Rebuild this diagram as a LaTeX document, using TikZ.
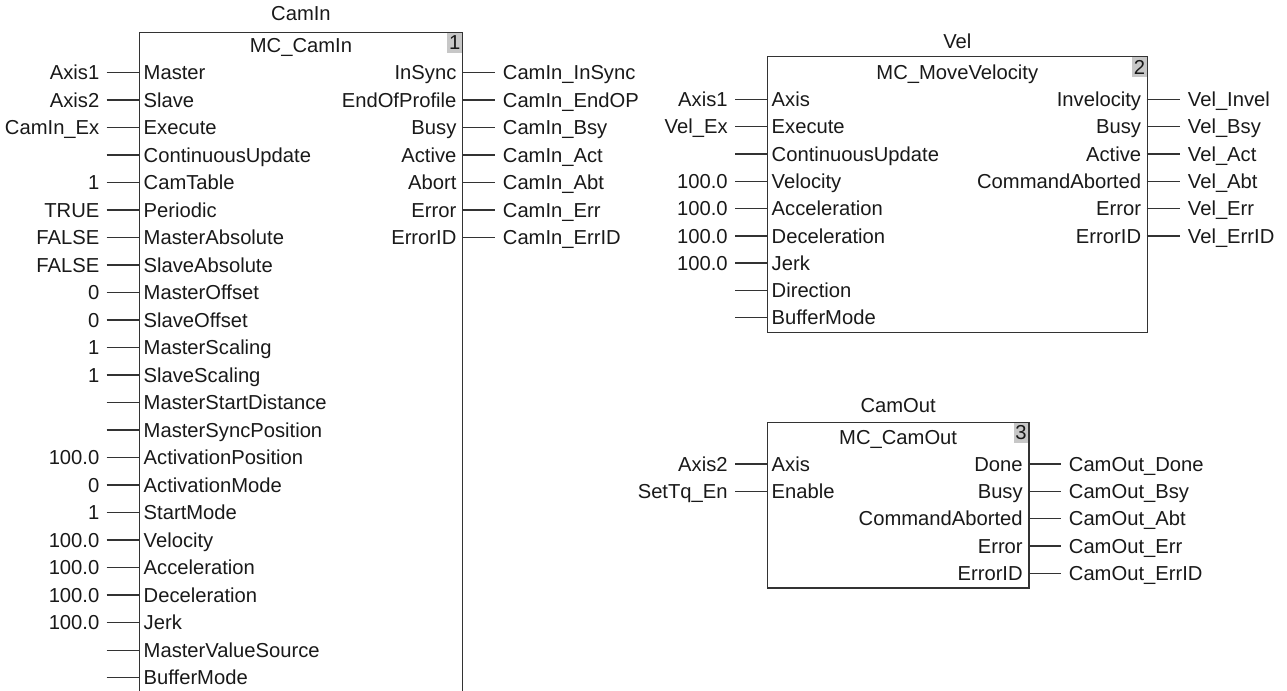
\documentclass[tikz,border=0pt]{standalone}
\usepackage{fontspec}
\setmainfont{Liberation Sans}
\usetikzlibrary{positioning}

\begin{document}
\begin{tikzpicture}[x=0.02cm, y=-0.02cm,
 every node/.style={font=\fontsize{11.5}{13}\selectfont, inner sep=0pt, text height=8.2pt, text depth=0pt, text=black!90},
 fb/.style={anchor=north west},
 numbox/.style={anchor=north east, fill=black!22, minimum width=0.3cm, minimum height=0.4cm},
 inarg/.style={anchor=east, inner xsep=4pt},
 inpin/.style={anchor=west, inner xsep=2.3pt},
 outpin/.style={anchor=east, inner xsep=3pt},
 outarg/.style={anchor=west, inner xsep=4.3pt},
 wire/.style={draw=black!80, line width=0.8pt}]
\useasboundingbox (0,0) rectangle (1287,690);
% CamIn, open at the bottom
\node[fb, minimum width=6.454cm, minimum height=13.154cm] (camin) at (139.3,32.3) {};
\node[numbox] (n1) at (camin.north east) {1};
\draw[wire] (camin.south west) |- (camin.north east) -- (camin.south east);
\node[above=2.2mm of camin.north] (t1) {CamIn};
\node[below=1.1mm of camin.north] (f1) {MC\_CamIn};
\foreach \v/\p [count=\i] in {Axis1/Master, Axis2/Slave, CamIn\_Ex/Execute, /ContinuousUpdate, 1/CamTable, TRUE/Periodic, FALSE/MasterAbsolute, FALSE/SlaveAbsolute, 0/MasterOffset, 0/SlaveOffset, 1/MasterScaling, 1/SlaveScaling, /MasterStartDistance, /MasterSyncPosition, 100.0/ActivationPosition, 0/ActivationMode, 1/StartMode, 100.0/Velocity, 100.0/Acceleration, 100.0/Deceleration, 100.0/Jerk, /MasterValueSource, /BufferMode}{
 \pgfmathsetmacro\y{72.3+27.52*(\i-1)}
 \node[inpin] (ci\i) at (139.3,\y) {\p};
 \node[inarg] (vi\i) at (106.7,\y) {\v};
 \draw[wire] (vi\i.east) -- (ci\i.west);
}
\foreach \p/\v [count=\i] in {InSync/CamIn\_InSync, EndOfProfile/CamIn\_EndOP, Busy/CamIn\_Bsy, Active/CamIn\_Act, Abort/CamIn\_Abt, Error/CamIn\_Err, ErrorID/CamIn\_ErrID}{
 \pgfmathsetmacro\y{72.3+27.52*(\i-1)}
 \node[outpin] (co\i) at (462,\y) {\p};
 \node[outarg] (vo\i) at (495,\y) {\v};
 \draw[wire] (co\i.east) -- (vo\i.west);
}
% Vel
\node[fb, minimum width=7.588cm, minimum height=5.5cm] (vel) at (767.3,56.7) {};
\node[numbox] (n2) at (vel.north east) {2};
\draw[wire] (vel.north west) rectangle (vel.south east);
\node[above=1.6mm of vel.north] (t2) {Vel};
\node[below=1.6mm of vel.north] (f2) {MC\_MoveVelocity};
\foreach \v/\p [count=\i] in {Axis1/Axis, Vel\_Ex/Execute, /ContinuousUpdate, 100.0/Velocity, 100.0/Acceleration, 100.0/Deceleration, 100.0/Jerk, /Direction, /BufferMode}{
 \pgfmathsetmacro\y{99.3+27.3*(\i-1)}
 \node[inpin] (vli\i) at (767.3,\y) {\p};
 \node[inarg] (vlv\i) at (735,\y) {\v};
 \draw[wire] (vlv\i.east) -- (vli\i.west);
}
\foreach \p/\v [count=\i] in {Invelocity/Vel\_Invel, Busy/Vel\_Bsy, Active/Vel\_Act, CommandAborted/Vel\_Abt, Error/Vel\_Err, ErrorID/Vel\_ErrID}{
 \pgfmathsetmacro\y{99.3+27.3*(\i-1)}
 \node[outpin] (vlo\i) at (1146.7,\y) {\p};
 \node[outarg] (vlw\i) at (1180,\y) {\v};
 \draw[wire] (vlo\i.east) -- (vlw\i.west);
}
% CamOut
\node[fb, minimum width=5.22cm, minimum height=3.3cm] (camout) at (767.3,422.3) {};
\node[numbox] (n3) at (camout.north east) {3};
\draw[wire] (camout.north west) rectangle (camout.south east);
\node[above=1.8mm of camout.north] (t3) {CamOut};
\node[below=1.5mm of camout.north] (f3) {MC\_CamOut};
\foreach \v/\p [count=\i] in {Axis2/Axis, SetTq\_En/Enable}{
 \pgfmathsetmacro\y{464+27.3*(\i-1)}
 \node[inpin] (coi\i) at (767.3,\y) {\p};
 \node[inarg] (cov\i) at (735,\y) {\v};
 \draw[wire] (cov\i.east) -- (coi\i.west);
}
\foreach \p/\v [count=\i] in {Done/CamOut\_Done, Busy/CamOut\_Bsy, CommandAborted/CamOut\_Abt, Error/CamOut\_Err, ErrorID/CamOut\_ErrID}{
 \pgfmathsetmacro\y{464+27.3*(\i-1)}
 \node[outpin] (coo\i) at (1028.3,\y) {\p};
 \node[outarg] (cow\i) at (1061,\y) {\v};
 \draw[wire] (coo\i.east) -- (cow\i.west);
}
\end{tikzpicture}
\end{document}
